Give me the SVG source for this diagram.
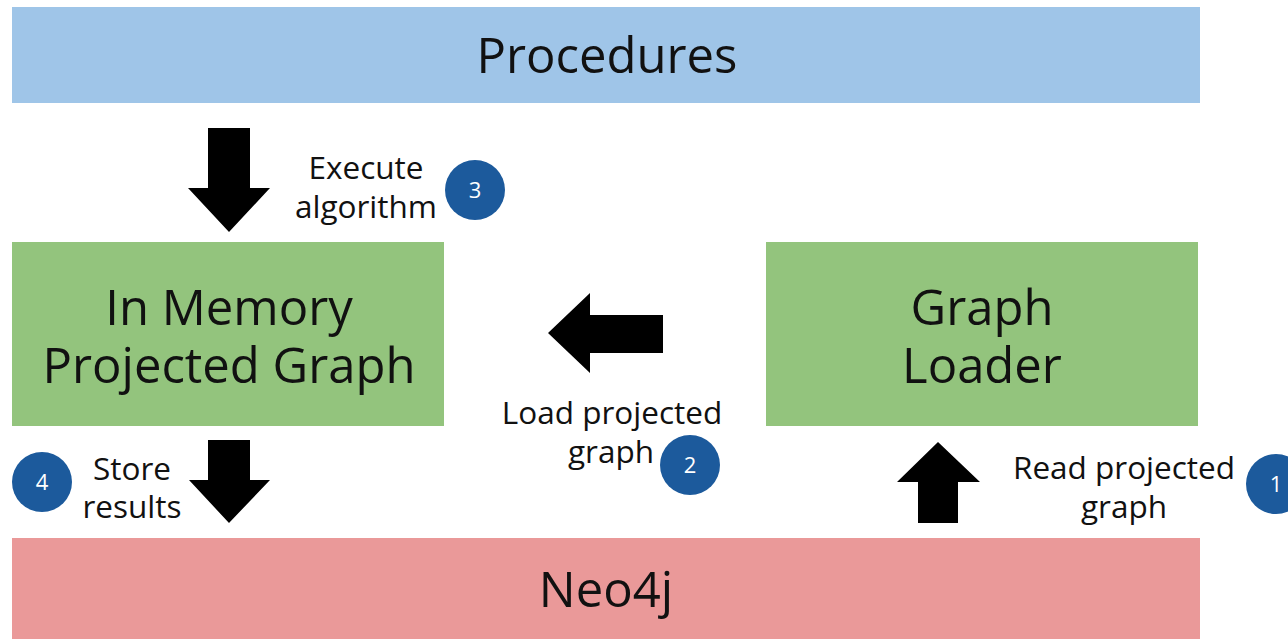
<svg xmlns="http://www.w3.org/2000/svg" width="1288" height="639" viewBox="0 0 1288 639">
<style>
.t{font-family:"Open Sans","Liberation Sans",sans-serif;fill:#111;text-anchor:middle}
.big{font-size:49px}
.lbl{font-size:31.5px}
.num{font-family:"Open Sans","Liberation Sans",sans-serif;font-size:22px;fill:#fff;text-anchor:middle}
.badge{fill:#1c5a9c}
.arr{fill:#000}
</style>
<rect width="1288" height="639" fill="#fff"/>
<g id="procedures">
<rect x="12" y="7" width="1188" height="96" fill="#9fc5e8"/>
<text class="t big" x="607" y="73">Procedures</text>
</g>
<g id="neo4j">
<rect x="12" y="538" width="1188" height="101" fill="#ea9999"/>
<text class="t big" x="606" y="607">Neo4j</text>
</g>
<g id="in-memory">
<rect x="12" y="242" width="432" height="184" fill="#93c47d"/>
<text class="t big" x="229" y="325">In Memory</text>
<text class="t big" x="229" y="383">Projected Graph</text>
</g>
<g id="graph-loader">
<rect x="766" y="242" width="432" height="184" fill="#93c47d"/>
<text class="t big" x="982" y="325">Graph</text>
<text class="t big" x="982" y="383">Loader</text>
</g>
<g id="connectors">
<polygon class="arr" points="208,128 250,128 250,188 270,188 229,232 188,188 208,188"/>
<polygon class="arr" points="208,440 250,440 250,480 270,480 229,523 189,480 208,480"/>
<polygon class="arr" points="663,315 663,353 590,353 590,373 548,333 590,293 590,315"/>
<polygon class="arr" points="918,523 958,523 958,482 980,482 938,442 897,482 918,482"/>
</g>
<g id="label-3">
<text class="t lbl" x="366" y="179">Execute</text>
<text class="t lbl" x="366" y="218">algorithm</text>
<circle class="badge" cx="475" cy="190" r="30"/>
<text class="num" x="475" y="198">3</text>
</g>
<g id="label-4">
<circle class="badge" cx="42" cy="482" r="30"/>
<text class="num" x="42" y="490">4</text>
<text class="t lbl" x="132" y="480">Store</text>
<text class="t lbl" x="132" y="518">results</text>
</g>
<g id="label-2">
<text class="t lbl" x="612" y="424">Load projected</text>
<text class="t lbl" x="611" y="463">graph</text>
<circle class="badge" cx="690" cy="465" r="30"/>
<text class="num" x="690" y="473">2</text>
</g>
<g id="label-1">
<text class="t lbl" x="1124" y="479">Read projected</text>
<text class="t lbl" x="1124" y="518">graph</text>
<circle class="badge" cx="1276" cy="484" r="30"/>
<text class="num" x="1276" y="492">1</text>
</g>
</svg>
